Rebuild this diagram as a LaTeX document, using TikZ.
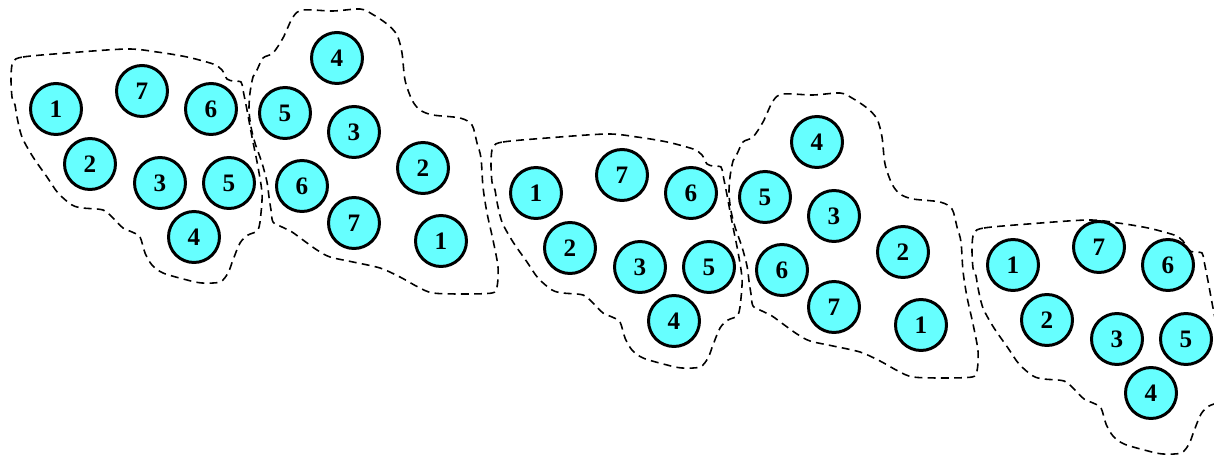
\documentclass[tikz,border=0pt]{standalone}
\usepackage{fontspec}
\setmainfont{Liberation Serif}

\definecolor{ballcyan}{HTML}{66FFFF}

\begin{document}
\begin{tikzpicture}[
    x=0.02cm, y=-0.02cm,
    ball/.style={circle, draw, line width=1.7pt, fill=ballcyan, minimum size=1.02cm, inner sep=0pt, font=\fontsize{14.3}{16}\selectfont\bfseries},
    blob/.style={draw, line width=0.9pt, dash pattern=on 4.5pt off 3pt}
  ]
  \useasboundingbox (0,0) rectangle (1214,455);
  \clip (0,0) rectangle (1214,455);

  % groups with the 1-7 / 2 3 5 / 4 layout
  \foreach \g/\dx/\dy/\ox/\oy in {a/0/0/0/0, c/480/84/480/85, e/957/156/961/171} {
    \begin{scope}[shift={(\ox,\oy)}]
      \draw[blob] plot[smooth cycle, tension=0.5] coordinates {
        (13,62) (23,57) (67,53) (127,49) (157,52) (187,57) (213,64) (222,70)
        (227,79) (233,81) (241,82) (243,90) (247,110) (252,137) (258,167)
        (262,193) (261,213) (258,230) (248,235) (240,243) (233,260) (228,273)
        (220,282) (202,283) (187,280) (163,273) (152,265) (145,253) (140,237)
        (132,232) (123,228) (113,218) (103,210) (83,208) (72,205) (58,193)
        (47,177) (33,157) (22,137) (17,117) (15,105) (12,97) (11,77)};
    \end{scope}
    \begin{scope}[shift={(\dx,\dy)}]
      \node[ball] (\g1) at (56,109) {1};
      \node[ball] (\g7) at (142,91) {7};
      \node[ball] (\g6) at (211,109) {6};
      \node[ball] (\g2) at (90,164) {2};
      \node[ball] (\g3) at (160,183) {3};
      \node[ball] (\g5) at (229,183) {5};
      \node[ball] (\g4) at (194,237) {4};
    \end{scope}
  }

  % groups with the 4 / 5 3 / 6 7 / 2 1 layout
  \foreach \g/\dx/\dy in {b/0/0, d/480/84} {
    \begin{scope}[shift={(\dx,\dy)}]
      \draw[blob] plot[smooth cycle, tension=0.5] coordinates {
        (257,70) (263,58) (273,53) (283,38) (293,17) (303,10) (333,11) (360,9)
        (372,14) (387,24) (397,35) (402,53) (405,80) (412,100) (420,110)
        (433,115) (460,118) (472,125) (477,143) (481,158) (483,187) (487,213)
        (493,240) (498,267) (497,287) (492,293) (463,294) (433,293) (418,287)
        (400,277) (380,268) (353,262) (330,257) (317,250) (303,240) (292,232)
        (282,227) (273,222) (271,210) (269,197) (267,182) (262,163) (255,143)
        (251,127) (249,110) (250,93) (253,77)};
      \node[ball] (\g4) at (337,58) {4};
      \node[ball] (\g5) at (285,113) {5};
      \node[ball] (\g3) at (354,132) {3};
      \node[ball] (\g2) at (423,168) {2};
      \node[ball] (\g6) at (302,186) {6};
      \node[ball] (\g7) at (354,223) {7};
      \node[ball] (\g1) at (441,241) {1};
    \end{scope}
  }
\end{tikzpicture}
\end{document}
